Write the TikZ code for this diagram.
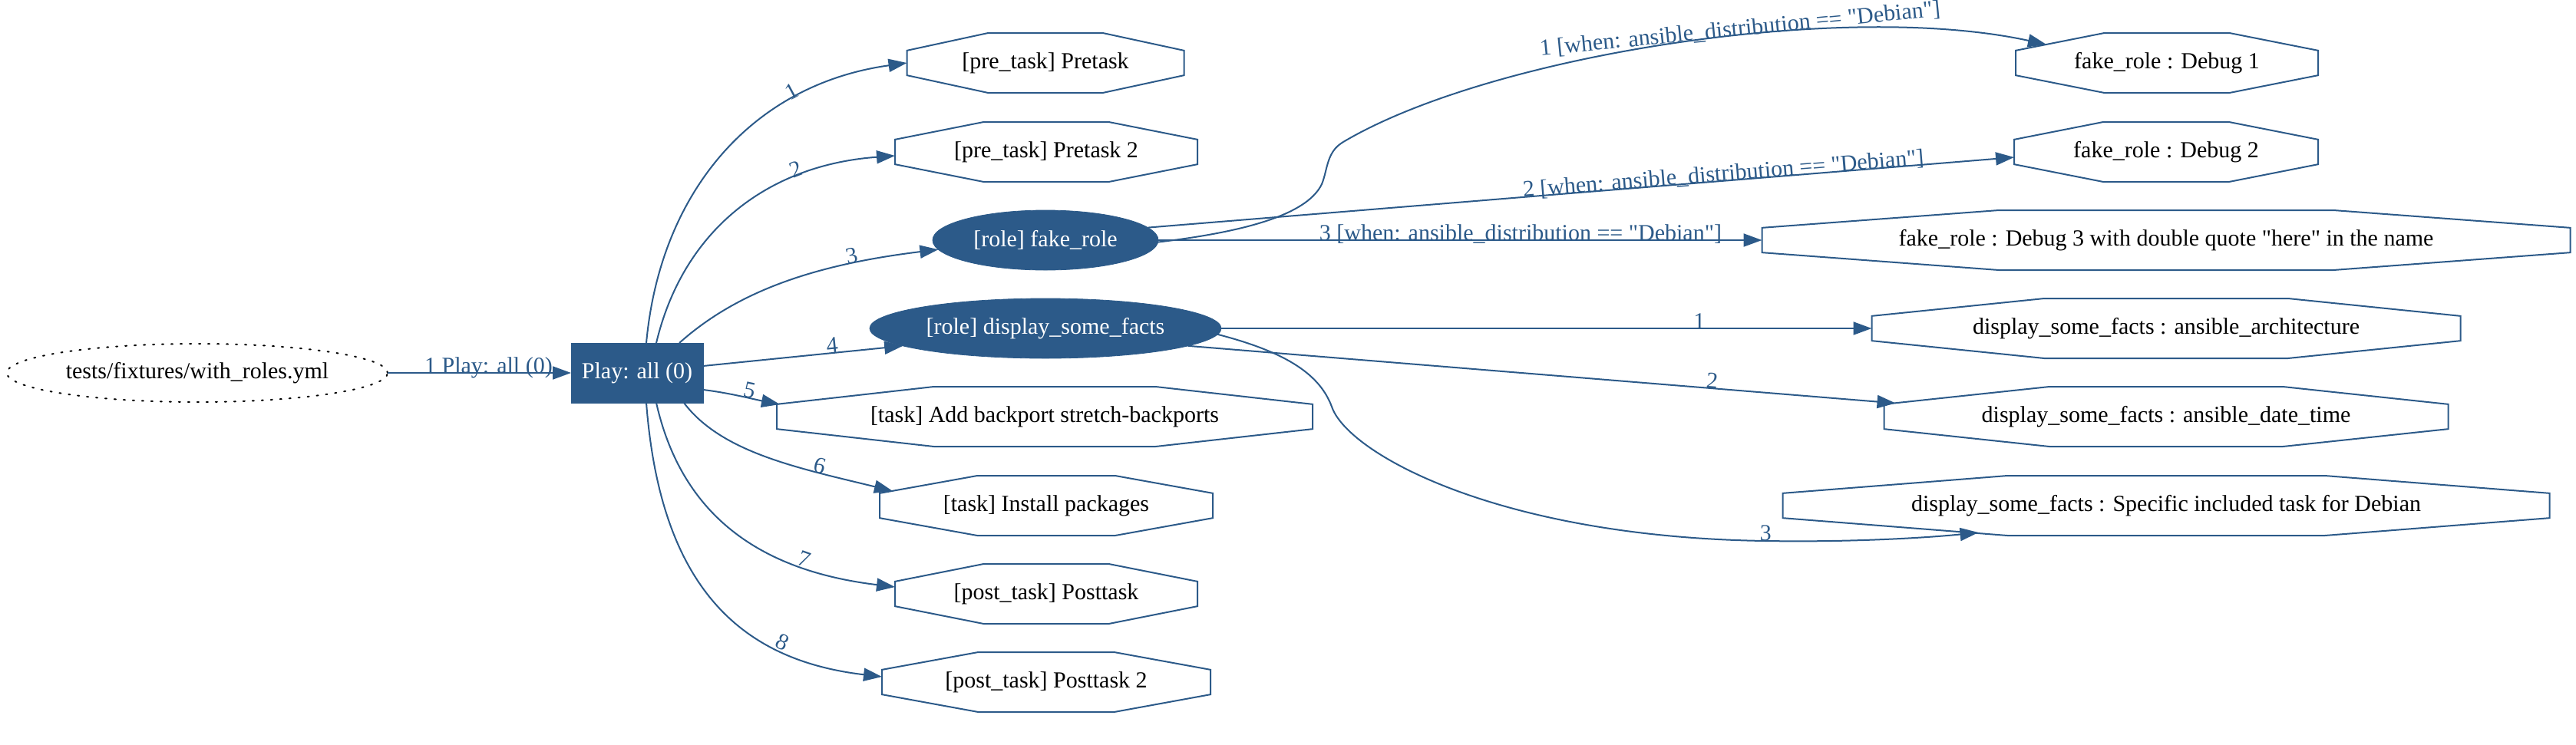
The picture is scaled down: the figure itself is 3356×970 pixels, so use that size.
\documentclass[tikz,border=0pt]{standalone}
\usepackage{fontspec}
\setmainfont{Liberation Serif}[Ligatures=TeXOff]
\usetikzlibrary{arrows.meta,calc,shapes.geometric}
\definecolor{gblue}{HTML}{2C5A89}
\begin{document}
\begin{tikzpicture}[x=0.5pt,y=-0.5pt,
  every node/.style={font=\fontsize{15}{18}\selectfont},
  octnode/.style={rectangle, inner sep=0pt, outer sep=0pt, minimum height=39pt, minimum width=#1*0.5pt, text=black},
  rolenode/.style={ellipse, fill=gblue, draw=gblue, text=white, inner sep=0pt, outer sep=0pt, minimum height=39pt, minimum width=#1*0.5pt},
  octline/.style={draw=gblue, line width=1pt, line join=miter},
  edge/.style={draw=gblue, line width=1pt, -{Triangle[length=12pt,width=8.5pt]}},
  lbl/.style={sloped, anchor=base, text=gblue, inner sep=0pt}]
\useasboundingbox (0,0) rectangle (3356,970);

% nodes
\node[ellipse, draw=black, line width=1pt, dash pattern=on 1pt off 5pt, line cap=round, inner sep=0pt, outer sep=0pt, minimum width=248pt, minimum height=38pt] (file) at (257,486) {tests/fixtures/with\_roles.yml};
\node[rectangle, fill=gblue, draw=gblue, text=white, inner sep=0pt, outer sep=0pt, minimum width=86pt, minimum height=39pt] (play) at (830,486) {Play: all (0)};

\node[octnode=361] (pt1) at (1362,82) {[pre\_task] Pretask};
\node[octnode=394] (pt2) at (1363,198) {[pre\_task] Pretask 2};
\node[rolenode=294] (fr) at (1362,313) {[role] fake\_role};
\node[rolenode=458] (dsf) at (1362,428) {[role] display\_some\_facts};
\node[octnode=698] (bp) at (1361,543) {[task] Add backport stretch-backports};
\node[octnode=434] (ip) at (1363,659) {[task] Install packages};
\node[octnode=394] (po1) at (1363,774) {[post\_task] Posttask};
\node[octnode=428] (po2) at (1363,889) {[post\_task] Posttask 2};

\node[octnode=394] (d1) at (2823,82) {fake\_role : Debug 1};
\node[octnode=396] (d2) at (2822,198) {fake\_role : Debug 2};
\node[octnode=1053] (d3) at (2822,313) {fake\_role : Debug 3 with double quote "here" in the name};
\node[octnode=767] (aa) at (2822,428) {display\_some\_facts : ansible\_architecture};
\node[octnode=735] (adt) at (2822,543) {display\_some\_facts : ansible\_date\_time};
\node[octnode=999] (sp) at (2822,659) {display\_some\_facts : Specific included task for Debian};

% octagon outlines
\foreach \n in {pt1,pt2,bp,ip,po1,po2,d1,d2,d3,aa,adt,sp}{
  \draw[octline] ($(\n.north west)!0.293!(\n.north east)$) -- ($(\n.north west)!0.707!(\n.north east)$)
    -- ($(\n.north east)!0.293!(\n.south east)$) -- ($(\n.north east)!0.707!(\n.south east)$)
    -- ($(\n.south west)!0.707!(\n.south east)$) -- ($(\n.south west)!0.293!(\n.south east)$)
    -- ($(\n.north west)!0.707!(\n.south west)$) -- ($(\n.north west)!0.293!(\n.south west)$) -- cycle;
}

% edges from file
\draw[edge] (file.east) -- node[lbl,pos=0.55]{1 Play: all (0)} (play.west);

% edges from play
\draw[edge] ($(play.north)+(12,0)$) .. controls (860,250) and (980,110) .. (pt1.west) node[lbl,pos=0.73]{1};
\draw[edge] ($(play.north)+(25,0)$) .. controls (890,300) and (1000,215) .. ($(pt2.west)+(0,5)$) node[lbl,pos=0.72]{2};
\draw[edge] ($(play.north)+(55,0)$) .. controls (960,380) and (1060,345) .. (fr.185) node[lbl,pos=0.75]{3};
\draw[edge] ($(play.east)+(0,-9)$) -- node[lbl,pos=0.65]{4} (dsf.187);
\draw[edge] ($(play.east)+(0,22)$) .. controls (950,512) and (980,520) .. ($(bp.west)+(4,-16)$) node[lbl,pos=0.6]{5};
\draw[edge] ($(play.south)+(61,0)$) .. controls (940,590) and (1040,610) .. ($(ip.west)+(17,-19)$) node[lbl,pos=0.72]{6};
\draw[edge] ($(play.south)+(25,0)$) .. controls (890,680) and (1000,745) .. ($(po1.west)+(0,-9)$) node[lbl,pos=0.73]{7};
\draw[edge] ($(play.south)+(12,0)$) .. controls (860,760) and (960,860) .. ($(po2.west)+(0,-7)$) node[lbl,pos=0.73]{8};

% edges from fake_role
\draw[edge] (fr.-1) .. controls (1640,300) and (1705,275) .. (1722,240)
  .. controls (1730,220) and (1728,198) .. (1750,185)
  .. controls (1940,72) and (2400,0) .. ($(d1.west)+(40,-24)$)
  node[lbl,pos=0.585]{1 [when: ansible\_distribution == "Debian"]};
\draw[edge] (fr.7.5) -- node[lbl,pos=0.665]{2 [when: ansible\_distribution == "Debian"]} ($(d2.west)+(0,7)$);
\draw[edge] (fr.east) -- node[lbl,pos=0.6]{3 [when: ansible\_distribution == "Debian"]} (d3.west);

% edges from display_some_facts
\draw[edge] (dsf.east) -- node[lbl,pos=0.735]{1} (aa.west);
\draw[edge] (dsf.-7) -- node[lbl,pos=0.74]{2} ($(adt.west)+(15,-17.5)$);
\draw[edge] (dsf.-2.5) .. controls (1680,460) and (1720,490) .. (1735,530)
  .. controls (1755,590) and (1950,700) .. (2300,705)
  .. controls (2420,707) and (2520,700) .. ($(sp.west)+(255,35)$) node[lbl,pos=0]{3};
\end{tikzpicture}
\end{document}
